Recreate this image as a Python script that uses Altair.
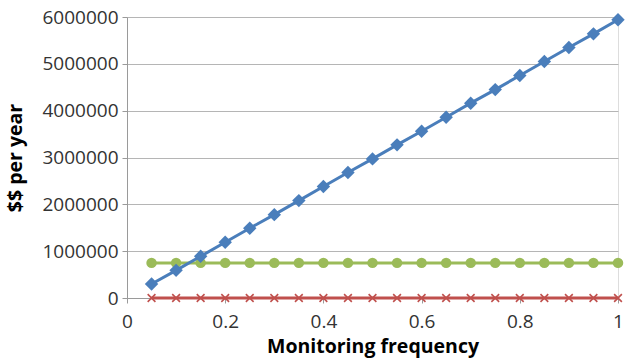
import altair as alt
import pandas as pd

freq = [0.05, 0.10, 0.15, 0.20, 0.25, 0.30, 0.35, 0.40, 0.45, 0.50,
        0.55, 0.60, 0.65, 0.70, 0.75, 0.80, 0.85, 0.90, 0.95, 1.00]
blue_vals = [300000, 590000, 890000, 1190000, 1490000, 1780000, 2080000, 2380000,
             2680000, 2970000, 3270000, 3560000, 3860000, 4160000, 4450000, 4750000,
             5050000, 5350000, 5640000, 5940000]
green_vals = [750000] * 20
red_vals = [0] * 20
x_ticks = [0, 0.2, 0.4, 0.6, 0.8, 1]
y_ticks = [0, 1000000, 2000000, 3000000, 4000000, 5000000, 6000000]

df_b = pd.DataFrame({"f": freq, "v": blue_vals})
df_g = pd.DataFrame({"f": freq, "v": green_vals})
df_r = pd.DataFrame({"f": freq, "v": red_vals})

FONT = "Open Sans"
xenc = alt.X("f:Q", scale=alt.Scale(domain=[0, 1], nice=False),
             axis=alt.Axis(values=x_ticks, title="Monitoring frequency", grid=False,
                           format="~g", labelFontSize=19, titleFontSize=19.5,
                           titleFontWeight="bold", labelFont=FONT, titleFont=FONT,
                           labelColor="#333333", titleColor="#000000",
                           domainColor="#9a9a9a", tickColor="#9a9a9a", tickSize=5,
                           labelPadding=9, titlePadding=6, labelFlush=False))
yenc = alt.Y("v:Q", scale=alt.Scale(domain=[0, 6000000], nice=False),
             axis=alt.Axis(values=y_ticks, title="$$ per year", grid=True,
                           format="d", labelFontSize=19, titleFontSize=19.5,
                           titleFontWeight="bold", labelFont=FONT, titleFont=FONT,
                           labelColor="#333333", titleColor="#000000",
                           gridColor="#b5b5b5", domainColor="#9a9a9a",
                           tickColor="#9a9a9a", tickSize=5, labelPadding=4,
                           titlePadding=16))

BLUE = "#4a7ebb"
GREEN = "#9bbb59"
RED = "#c0504d"

def series(df, color, shape, size, filled=True, sw=0):
    line = alt.Chart(df).mark_line(color=color, strokeWidth=3).encode(x=xenc, y=yenc)
    if filled:
        pts = alt.Chart(df).mark_point(shape=shape, size=size, filled=True, opacity=1,
                                       color=color).encode(x=xenc, y=yenc)
    else:
        pts = alt.Chart(df).mark_point(shape=shape, size=size, filled=False, opacity=1,
                                       color=color, strokeWidth=sw).encode(x=xenc, y=yenc)
    return line + pts

chart = alt.layer(
    series(df_r, RED, "M-1,-1L1,1M-1,1L1,-1", 60, filled=False, sw=1.6),
    series(df_g, GREEN, "circle", 110),
    series(df_b, BLUE, "diamond", 180),
).properties(
    width=491, height=281,
    autosize=alt.AutoSizeParams(type="none"),
    padding={"left": 127, "top": 17, "right": 8, "bottom": 65},
).configure_view(stroke=None).configure(background="white")

chart.save("out.html", embed_options={"renderer": "svg", "actions": False})
